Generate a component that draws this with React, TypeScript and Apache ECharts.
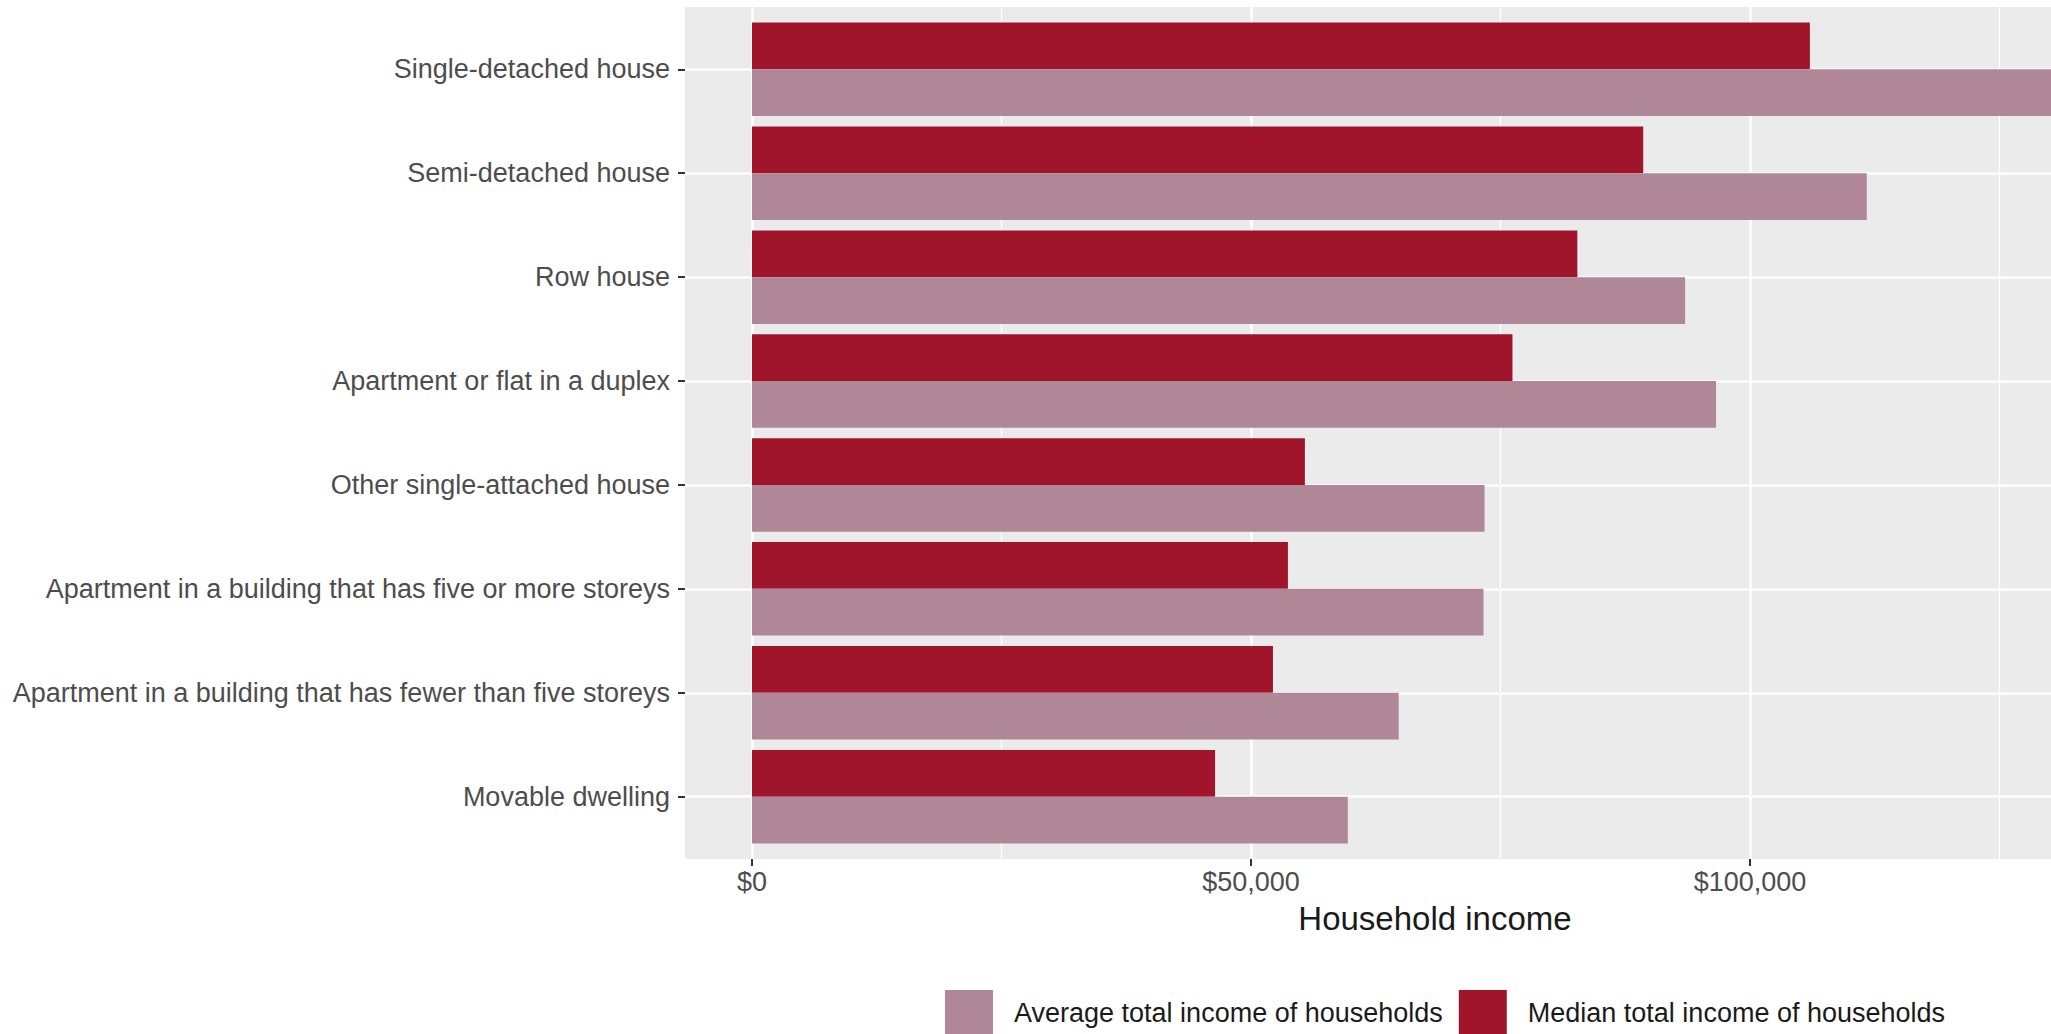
import React, { useEffect, useRef } from "react";
import * as echarts from "echarts";

const categories = [
  "Single-detached house",
  "Semi-detached house",
  "Row house",
  "Apartment or flat in a duplex",
  "Other single-attached house",
  "Apartment in a building that has five or more storeys",
  "Apartment in a building that has fewer than five storeys",
  "Movable dwelling",
];
const medianIncome = [106000, 89300, 82700, 76200, 55400, 53700, 52200, 46400];
const averageIncome = [135500, 111700, 93500, 96600, 73400, 73300, 64800, 59700];
const seriesNames = ["Average total income of households", "Median total income of households"];
const axisTitle = "Household income";

const FONT = "'Liberation Sans', Arial, sans-serif";

export default function App() {
  const ref = useRef<HTMLDivElement>(null);
  useEffect(() => {
    document.body.style.margin = "0";
    const chart = echarts.init(ref.current!, null, { renderer: "svg" });
    const band = 852 / 8.2;
    const option: any = {
      animation: false,
      backgroundColor: "#ffffff",
      textStyle: { fontFamily: FONT },
      legend: {
        left: 940,
        top: 985,
        itemWidth: 48,
        itemHeight: 46,
        itemGap: 16,
        icon: "rect",
        data: seriesNames,
        textStyle: { fontSize: 27, color: "#1A1A1A", fontFamily: FONT, padding: [0, 0, 0, 16] },
      },
      grid: [
        { left: 685, top: 7, width: 1500, height: 852, show: true, backgroundColor: "#EBEBEB", borderWidth: 0, outerBoundsMode: "none" },
        { left: 752, top: 7, width: 1497, height: 852, outerBoundsMode: "none" },
        { left: 752, top: 7 + 0.1 * band, width: 1497, height: 8 * band, outerBoundsMode: "none" },
        { left: 685, top: 7 + 0.6 * band, width: 1500, height: 7 * band, outerBoundsMode: "none" },
      ],
      xAxis: [
        {
          gridIndex: 0, type: "value", min: 0, max: 1,
          axisLine: { show: false }, axisTick: { show: false }, axisLabel: { show: false }, splitLine: { show: false },
          name: axisTitle, nameLocation: "middle", nameGap: 43,
          nameTextStyle: { fontSize: 33, color: "#1A1A1A", fontFamily: FONT },
        },
        {
          gridIndex: 1, type: "value", min: 0, max: 150000, interval: 50000,
          axisLine: { show: false },
          axisTick: { show: true, length: 7, lineStyle: { color: "#333333", width: 2 } },
          axisLabel: {
            fontSize: 27, color: "#4D4D4D", margin: 9, fontFamily: FONT, showMaxLabel: false,
            formatter: (v: number) => "$" + v.toLocaleString("en-US"),
          },
          splitLine: { show: true, lineStyle: { color: "#FFFFFF", width: 2.5 } },
          minorTick: { show: false, splitNumber: 2 },
          minorSplitLine: { show: true, lineStyle: { color: "#FFFFFF", width: 1.3 } },
        },
        { gridIndex: 2, type: "value", min: 0, max: 150000, show: false },
        { gridIndex: 3, type: "value", min: 0, max: 1, show: false },
      ],
      yAxis: [
        { gridIndex: 0, type: "value", show: false },
        { gridIndex: 1, type: "category", data: categories, show: false },
        { gridIndex: 2, type: "category", data: categories, inverse: true, show: false },
        {
          gridIndex: 3, type: "category", data: categories, inverse: true, boundaryGap: false,
          axisLine: { show: false },
          axisTick: { show: true, length: 7, lineStyle: { color: "#333333", width: 2 } },
          axisLabel: { fontSize: 27, color: "#4D4D4D", margin: 15, fontFamily: FONT },
          splitLine: { show: true, lineStyle: { color: "#FFFFFF", width: 2.5 } },
        },
      ],
      series: [
        {
          name: seriesNames[1], type: "bar", xAxisIndex: 2, yAxisIndex: 2,
          data: medianIncome, barWidth: band * 0.45, barGap: "0%",
          itemStyle: { color: "#A1152C" },
        },
        {
          name: seriesNames[0], type: "bar", xAxisIndex: 2, yAxisIndex: 2,
          data: averageIncome, barWidth: band * 0.45, barGap: "0%",
          itemStyle: { color: "#AF8797" },
        },
      ],
    };
    chart.setOption(option);
    return () => chart.dispose();
  }, []);
  return <div ref={ref} style={{ width: 2051, height: 1034 }} />;
}
